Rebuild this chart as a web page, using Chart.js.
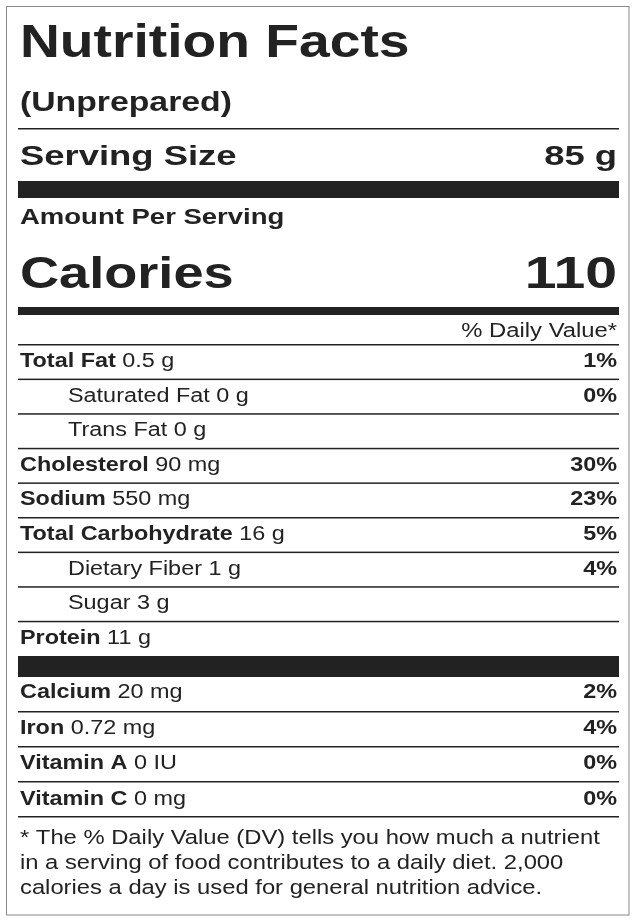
<!DOCTYPE html>
<html>
<head>
<meta charset="utf-8">
<script src="https://cdn.jsdelivr.net/npm/chart.js@4"></script>
<style>
  html, body { margin: 0; padding: 0; background: #fff; }
  #wrap { width: 636px; height: 922px; }
</style>
</head>
<body>
<div id="wrap"><canvas id="label"></canvas></div>
<script>
// nutrient rows
const nutrients = ['Total Fat', 'Saturated Fat', 'Trans Fat', 'Cholesterol', 'Sodium',
  'Total Carbohydrate', 'Dietary Fiber', 'Sugar', 'Protein'];
const amounts = ['0.5 g', '0 g', '0 g', '90 mg', '550 mg', '16 g', '1 g', '3 g', '11 g'];
const dailyValues = ['1%', '0%', '', '30%', '23%', '5%', '4%', '', ''];
const subRow = [false, true, true, false, false, false, true, true, false];

const minerals = ['Calcium', 'Iron', 'Vitamin A', 'Vitamin C'];
const mineralAmounts = ['20 mg', '0.72 mg', '0 IU', '0 mg'];
const mineralDV = ['2%', '4%', '0%', '0%'];

const footnote = [
  '* The % Daily Value (DV) tells you how much a nutrient',
  'in a serving of food contributes to a daily diet. 2,000',
  'calories a day is used for general nutrition advice.'
];

const FONT = '"Liberation Sans", Arial, sans-serif';
const INK = '#222';

let labelPlugin = {
  id: 'labelPlugin',
  afterDraw(chart) {
    const ctx = chart.ctx;
    const xs = chart.scales.x, ys = chart.scales.y;
    const X = v => xs.getPixelForValue(v);
    const Y = v => ys.getPixelForValue(v);
    const L = X(20), R = X(617);

    // text drawn with a horizontal stretch to match the wide original face
    const text = (s, x, y, size, bold, align, sx) => {
      sx = sx || 1.17;
      ctx.font = (bold ? 'bold ' : '') + size + 'px ' + FONT;
      ctx.textAlign = align || 'left';
      ctx.textBaseline = 'alphabetic';
      ctx.fillStyle = INK;
      ctx.save();
      ctx.translate(x, y);
      ctx.scale(sx, 1);
      ctx.fillText(s, 0, 0);
      ctx.restore();
      return ctx.measureText(s).width * sx;
    };
    const hline = (y, h) => {
      ctx.fillStyle = INK;
      ctx.fillRect(L - 2, Y(y), R - L + 4, h);
    };

    ctx.save();
    // outer border
    ctx.strokeStyle = '#888';
    ctx.lineWidth = 1;
    ctx.strokeRect(X(6.5), Y(6.5), X(629) - X(6.5), Y(915) - Y(6.5));

    const H = 1.25;
    text('Nutrition Facts', L, Y(57), 46, true, 'left', 1.2);
    text('(Unprepared)', L, Y(111), 27, true, 'left', H);
    hline(128, 1.5);
    text('Serving Size', L, Y(165), 28, true, 'left', 1.3);
    text('85 g', R, Y(165), 28, true, 'right', 1.3);
    hline(181, 17);
    text('Amount Per Serving', L, Y(224), 22, true, 'left', H);
    text('Calories', L, Y(288), 44, true, 'left', 1.23);
    text('110', R, Y(288), 44, true, 'right', 1.3);
    hline(307, 8);
    text('% Daily Value*', R, Y(337), 20, false, 'right', 1.19);
    hline(344, 1.5);

    const rowH = 34.6;
    nutrients.forEach((n, i) => {
      const base = 367 + i * rowH;
      const x0 = subRow[i] ? X(68) : L;
      const w = text(n, x0, Y(base), 20, !subRow[i]);
      text(' ' + amounts[i], x0 + w, Y(base), 20, false);
      if (dailyValues[i]) text(dailyValues[i], R, Y(base), 20, true, 'right');
      if (i < nutrients.length - 1) hline(344 + (i + 1) * rowH, 1.5);
    });
    hline(656, 21);

    minerals.forEach((m, i) => {
      const base = 698 + i * 35.5;
      const w = text(m, L, Y(base), 20, true);
      text(' ' + mineralAmounts[i], L + w, Y(base), 20, false);
      text(mineralDV[i], R, Y(base), 20, true, 'right');
      hline(711 + i * 35, 1.5);
    });

    footnote.forEach((s, i) => text(s, L, Y(844 + i * 25), 20.5, false, 'left', 1.16));
    ctx.restore();
  }
};

new Chart(document.getElementById('label'), {
  type: 'scatter',
  data: { datasets: [{ data: [] }] },
  options: {
    responsive: true,
    maintainAspectRatio: false,
    animation: false,
    layout: { padding: 0 },
    plugins: { legend: { display: false }, tooltip: { enabled: false } },
    scales: {
      x: { type: 'linear', min: 0, max: 636, display: false },
      y: { type: 'linear', min: 0, max: 922, reverse: true, display: false }
    }
  },
  plugins: [labelPlugin]
});
</script>
</body>
</html>
